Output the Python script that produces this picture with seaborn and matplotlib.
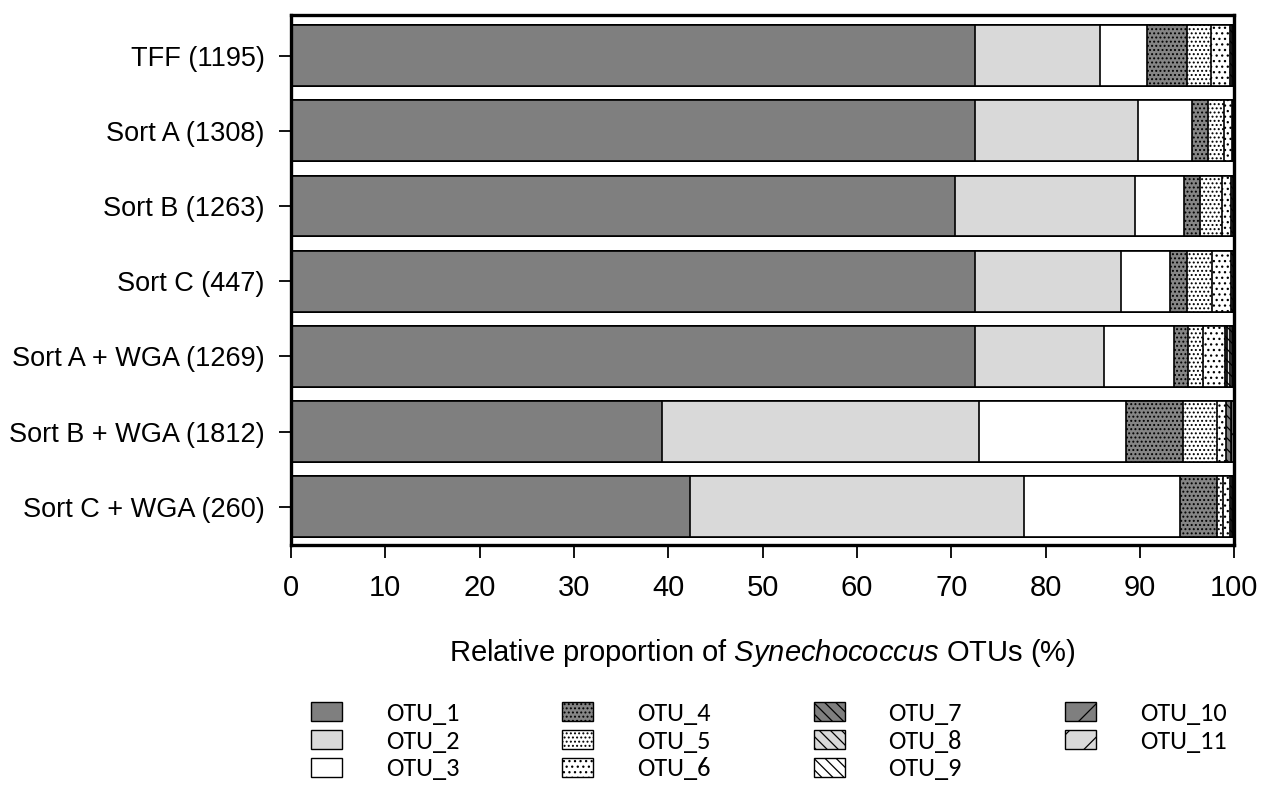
import numpy as np
import pandas as pd
import matplotlib
matplotlib.use("Agg")
import matplotlib.pyplot as plt
from matplotlib import font_manager
from matplotlib.patches import Patch
import seaborn as sns

samples = ["TFF (1195)", "Sort A (1308)", "Sort B (1263)", "Sort C (447)",
           "Sort A + WGA (1269)", "Sort B + WGA (1812)", "Sort C + WGA (260)"]
otu_names = ["OTU_1", "OTU_2", "OTU_3", "OTU_4", "OTU_5", "OTU_6",
             "OTU_7", "OTU_8", "OTU_9", "OTU_10", "OTU_11"]

otu_1 = [72.5, 72.5, 70.4, 72.5, 72.5, 39.3, 42.3]
otu_2 = [13.3, 17.3, 19.1, 15.5, 13.7, 33.6, 35.4]
otu_3 = [4.9, 5.7, 5.2, 5.2, 7.4, 15.6, 16.6]
otu_4 = [4.3, 1.7, 1.7, 1.8, 1.5, 6.1, 3.9]
otu_5 = [2.5, 1.7, 2.3, 2.6, 1.6, 3.6, 0.6]
otu_6 = [2.1, 0.9, 1.0, 2.1, 2.3, 0.9, 0.8]
otu_7 = [0.2, 0.1, 0.2, 0.2, 0.2, 0.6, 0.2]
otu_8 = [0.1, 0.1, 0.1, 0.1, 0.4, 0.0, 0.1]
otu_9 = [0.1, 0.0, 0.0, 0.0, 0.2, 0.0, 0.0]
otu_10 = [0.0, 0.0, 0.0, 0.0, 0.1, 0.3, 0.1]
otu_11 = [0.0, 0.0, 0.0, 0.0, 0.1, 0.0, 0.0]
xticks = [0, 10, 20, 30, 40, 50, 60, 70, 80, 90, 100]

faces = ["#7f7f7f", "#d9d9d9", "#ffffff", "#858585", "#ffffff", "#ffffff",
         "#7f7f7f", "#d9d9d9", "#ffffff", "#7f7f7f", "#d9d9d9"]
hatches = [None, None, None, "....", "....", "...",
           "\\\\\\", "\\\\\\", "\\\\\\", "/", "/"]

sns.set_theme(style="white")
avail = {f.name for f in font_manager.fontManager.ttflist}
narrow = "Liberation Sans Narrow" if "Liberation Sans Narrow" in avail else "Liberation Sans"
legfont = "Carlito" if "Carlito" in avail else "Lato"
plt.rcParams["font.family"] = ["Liberation Sans", "DejaVu Sans"]
plt.rcParams["hatch.linewidth"] = 0.9
plt.rcParams["mathtext.fontset"] = "custom"
plt.rcParams["mathtext.rm"] = narrow
plt.rcParams["mathtext.it"] = narrow + ":italic"
for key in ["text.color", "axes.labelcolor", "xtick.color", "ytick.color"]:
    plt.rcParams[key] = "black"

values = [otu_1, otu_2, otu_3, otu_4, otu_5, otu_6, otu_7, otu_8, otu_9, otu_10, otu_11]
df = pd.DataFrame({n: v for n, v in zip(otu_names, values)})
df["sample"] = samples
cum = df[otu_names].cumsum(axis=1)
cum["sample"] = samples

fig = plt.figure(figsize=(12.62, 7.89), dpi=100)
ax = fig.add_axes([0.2306, 0.309, 0.7474, 0.672])

for i in range(len(otu_names) - 1, -1, -1):
    sns.barplot(data=cum, x=otu_names[i], y="sample", orient="h", order=samples,
                color=faces[i], saturation=1, errorbar=None, width=0.81,
                edgecolor="black", linewidth=1.2, hatch=hatches[i], ax=ax)

ax.set_xlim(0, 100)
ax.set_ylim(6.51, -0.54)
ax.set_xticks(xticks)
ax.set_xticklabels([str(t) for t in xticks], fontfamily=narrow, fontsize=21)
ax.tick_params(axis="y", labelsize=19.5, length=9, width=1.3, pad=10, left=True,
               color="black", labelcolor="black")
ax.tick_params(axis="x", length=9, width=1.3, pad=12, bottom=True,
               color="black", labelcolor="black")
ax.set_ylabel("")
ax.set_xlabel(r"Relative proportion of $\mathit{Synechococcus}$ OTUs (%)",
              fontfamily=narrow, fontsize=21, labelpad=25, color="black")
for s in ax.spines.values():
    s.set_visible(True)
    s.set_color("black")
    s.set_linewidth(2.4)

handles = [Patch(facecolor=faces[i], edgecolor="black", hatch=hatches[i], linewidth=1.0)
           for i in range(len(otu_names))]
leg = fig.legend(handles, otu_names, loc="upper left", bbox_to_anchor=(0.2464, 0.1103),
                 ncol=4, frameon=False, borderpad=0, borderaxespad=0,
                 prop={"family": legfont, "size": 19},
                 handlelength=1.17, handleheight=0.72, handletextpad=1.67,
                 columnspacing=3.9, labelspacing=0.18)
for t in leg.get_texts():
    t.set_color("black")

fig.savefig("out.png", dpi=100, facecolor="white")
